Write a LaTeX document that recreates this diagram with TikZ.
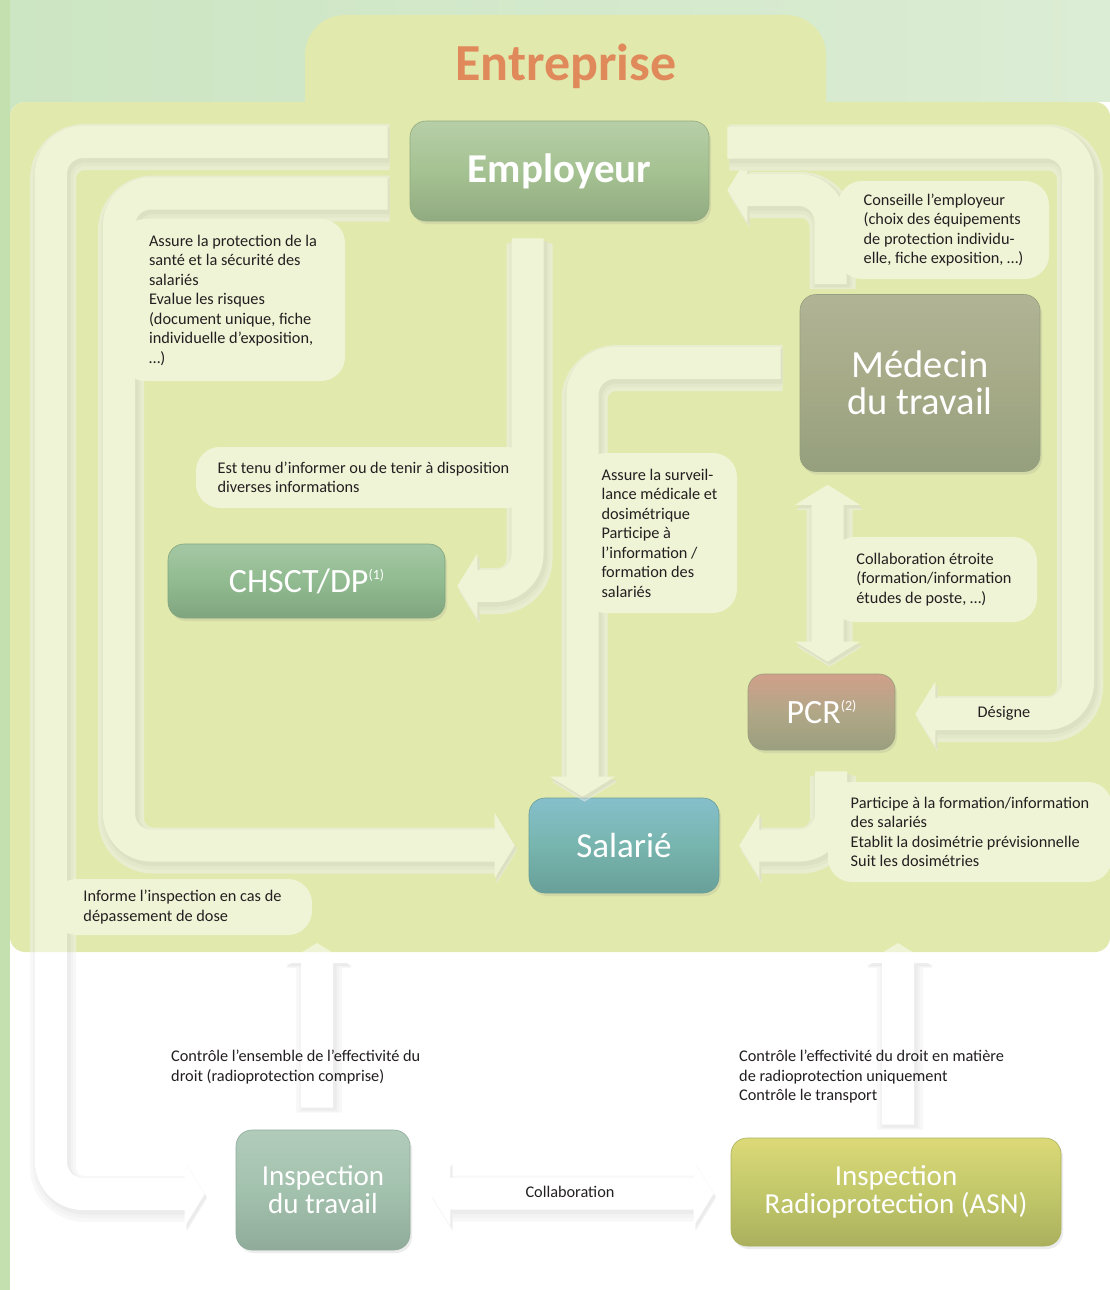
\documentclass[tikz,border=0pt]{standalone}
\usepackage{fontspec}
\setmainfont{Carlito}
\usetikzlibrary{arrows.meta,positioning,shadows,calc}
\definecolor{Panel}{HTML}{E1E9AD}
\definecolor{Band}{HTML}{F0F4D6}
\definecolor{Backg}{HTML}{CCE5C2}
\definecolor{Strip}{HTML}{C3E0AE}
\definecolor{Orange}{HTML}{E0895A}
\definecolor{Ink}{HTML}{231F20}
\definecolor{EmpGreen}{HTML}{A5C292}
\definecolor{MedOlive}{HTML}{A6AA87}
\definecolor{ChsGreen}{HTML}{91BB90}
\definecolor{PcrBrown}{HTML}{B1A787}
\definecolor{PcrPink}{HTML}{D09F8A}
\definecolor{SalTeal}{HTML}{77B5AE}
\definecolor{SalBlue}{HTML}{86BFCB}
\definecolor{ItGreen}{HTML}{A3C2AE}
\definecolor{AsnOlive}{HTML}{C2C86A}
\definecolor{AsnYellow}{HTML}{DCD978}
\newcommand{\txt}{\fontsize{16.3}{19.5}\selectfont}
\newcommand{\sups}[1]{\raisebox{13pt}{\fontsize{14}{14}\selectfont(#1)}}

\tikzset{
  box/.style n args={3}{rounded corners=16pt, text=white, align=center,
    top color=#1, bottom color=#3, middle color=#2, draw=#3, line width=.6pt,
    drop shadow={shadow xshift=2pt, shadow yshift=-3pt, opacity=.15}},
  bubble/.style={fill=Band, rounded corners=24pt, align=left, text=Ink, font=\txt},
  note/.style={align=left, text=Ink, font=\txt, inner sep=0pt},
  band/.style={draw=white, line width=32pt, rounded corners=32pt,
    >={Triangle[length=20pt,width=64pt]}, ->,
    preaction={draw=black!5, line width=46pt, transform canvas={shift={(2pt,-5pt)}}},
    preaction={draw=black!9, line width=40pt, transform canvas={shift={(2pt,-4pt)}}},
    preaction={draw=black!14, line width=35pt, transform canvas={shift={(2pt,-3pt)}}}},
}

\begin{document}
\begin{tikzpicture}[x=1pt,y=-1pt]
  \useasboundingbox (0,0) rectangle (1110,1290);
  % background and frame
  \fill[left color=Backg, right color=Backg!70!white] (0,0) rectangle (1110,1290);
  \fill[Strip] (0,0) rectangle (10,1290);
  \fill[white, rounded corners=15pt] (10,102) rectangle (1130,1310);
  \fill[Panel, rounded corners=40pt] (305,15) rectangle (826,140);
  \fill[Panel, rounded corners=15pt] (10,102) rectangle (1110,952);
  \node[font=\bfseries\fontsize{52}{52}\selectfont, text=Orange] (title) at (566,66) {Entreprise};

  % actors
  \node[box={EmpGreen!80!white}{EmpGreen}{EmpGreen!88!black}, minimum width=299pt, minimum height=100pt,
    font=\bfseries\fontsize{41}{41}\selectfont] (emp) at (559.5,171) {Employeur};
  \node[box={MedOlive!88!white}{MedOlive}{MedOlive!80!ChsGreen!92!black}, minimum width=240pt, minimum height=177pt,
    font=\fontsize{38.5}{37}\selectfont] (med) at (920,383) {Médecin\\du travail};
  \node[box={ChsGreen!82!white}{ChsGreen}{ChsGreen!88!black}, minimum width=277pt, minimum height=74pt,
    font=\fontsize{34}{34}\selectfont] (chsct) at (306.5,581) {CHSCT/DP\sups{1}};
  \node[box={PcrPink}{PcrBrown}{PcrBrown!70!ChsGreen!92!black}, minimum width=147pt, minimum height=76pt,
    font=\fontsize{34}{34}\selectfont] (pcr) at (821.5,712) {PCR\sups{2}};
  \node[box={SalBlue}{SalTeal}{SalTeal!88!black}, minimum width=190pt, minimum height=95pt,
    font=\fontsize{35}{35}\selectfont] (sal) at (624,845.5) {Salarié};
  \node[box={ItGreen!85!white}{ItGreen}{ItGreen!88!black}, minimum width=174pt, minimum height=120pt,
    font=\fontsize{29}{28}\selectfont] (itrav) at (323,1190) {Inspection\\du travail};
  \node[box={AsnYellow}{AsnOlive}{AsnOlive!88!black}, minimum width=330pt, minimum height=108pt,
    font=\fontsize{29}{28}\selectfont] (asn) at (896,1192) {Inspection\\Radioprotection (ASN)};
  \coordinate (entL) at (317,943);
  \coordinate (entR) at (898,943);

  % relations
  \begin{scope}[transparency group, opacity=.5]
    \draw[band] ([shift={(-22,-29)}]emp.west) -| (51,1194) -- ([shift={(-31,4)}]itrav.west);
    \draw[band] ([shift={(-22,22.5)}]emp.west) -| (119,845.5) -- ([xshift=-14pt]sal.west);
    \draw[band] ([shift={(-32,17)}]emp.south) |- ([shift={(12,5)}]chsct.east);
    \draw[band] ([shift={(-19,-20)}]med.west) -| ([shift={(-41.5,-1)}]sal.north);
    \draw[band] ([shift={(-89.5,-10)}]med.north) |- ([shift={(18,19)}]emp.east);
    \draw[band] ([shift={(18,-28.5)}]emp.east) -| (1078,714) -- ([shift={(20,2)}]pcr.east);
    \draw[band,<->] ([shift={(-92.5,13)}]med.south) -- ([shift={(6,-12)}]pcr.north);
    \draw[band] ([shift={(9.5,21)}]pcr.south) |- ([shift={(20,0)}]sal.east);
    \draw[band] ([shift={(-6,-22)}]itrav.north) -- (entL);
    \draw[band] ([shift={(2,-13)}]asn.north) -- (entR);
    \draw[band,<->] ([shift={(20,3.5)}]itrav.east) -- ([shift={(-17,1.5)}]asn.west);
  \end{scope}

  % roles
  \node[bubble, minimum width=224pt, minimum height=162pt] (prot) at (233,300)
    {Assure la protection de la\\santé et la sécurité des\\salariés\\Evalue les risques\\(document unique, fiche\\individuelle d’exposition,\\…)};
  \node[bubble, minimum width=335pt, minimum height=61pt] (info) at (363.5,477.5)
    {Est tenu d’informer ou de tenir à disposition\\diverses informations};
  \node[bubble, minimum width=155pt, minimum height=160pt] (surv) at (659.5,533)
    {Assure la surveil-\\lance médicale et\\dosimétrique\\Participe à\\l’information /\\formation des\\salariés};
  \node[bubble, minimum width=211pt, minimum height=98pt] (cons) at (943.5,230)
    {Conseille l’employeur\\(choix des équipements\\de protection individu-\\elle, fiche exposition, …)};
  \node[bubble, minimum width=206pt, minimum height=85pt] (colet) at (934,579.5)
    {Collaboration étroite\\(formation/information\\études de poste, …)};
  \node[bubble, minimum width=284pt, minimum height=100pt] (form) at (970,832)
    {Participe à la formation/information\\des salariés\\Etablit la dosimétrie prévisionnelle\\Suit les dosimétries};
  \node[bubble, minimum width=259pt, minimum height=56pt] (dose) at (182.5,907)
    {Informe l’inspection en cas de\\dépassement de dose};
  \node[note] (desig) at (1004,713) {Désigne};
  \node[note, anchor=west] (ctrlit) at (171,1067)
    {Contrôle l’ensemble de l’effectivité du\\droit (radioprotection comprise)};
  \node[note, anchor=west] (ctrlasn) at (739,1077)
    {Contrôle l’effectivité du droit en matière\\de radioprotection uniquement\\Contrôle le transport};
  \node[note] (collab) at (570,1192) {Collaboration};
\end{tikzpicture}
\end{document}
